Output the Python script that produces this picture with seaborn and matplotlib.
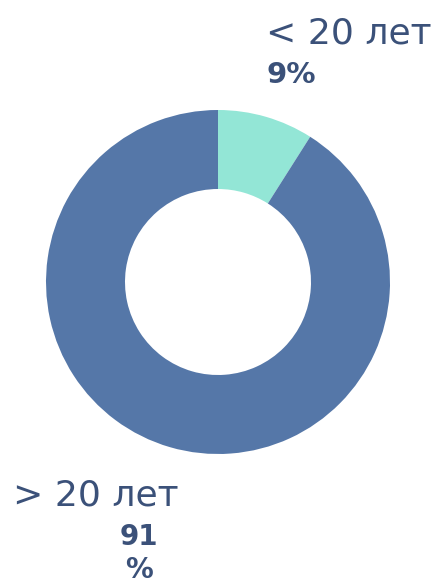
import matplotlib
matplotlib.use('Agg')
import matplotlib.pyplot as plt
import seaborn as sns

# data
labels = ['< 20 лет', '> 20 лет']
shares = [9, 91]
colors = ['#93E6D6', '#5577A8']

sns.set_style('white')
plt.rcParams['font.family'] = ['DejaVu Sans']

W, H = 440, 586
fig = plt.figure(figsize=(W / 100, H / 100), dpi=100)
ax = fig.add_axes([0, 0, 1, 1])

cx, cy, r_out, r_in = 218, H - 282, 172, 93
ax.pie(shares, colors=colors, startangle=90, counterclock=False,
       center=(cx, cy), radius=r_out,
       wedgeprops=dict(width=r_out - r_in, linewidth=0))
ax.set_xlim(0, W)
ax.set_ylim(0, H)
ax.set_aspect('equal')
ax.axis('off')

txt = '#3B5179'
ax.text(432, H - 44, labels[0], ha='right', va='baseline', fontsize=26, color=txt)
ax.text(291, H - 83, f'{shares[0]}%', ha='center', va='baseline', fontsize=21,
        fontweight='bold', color=txt)
ax.text(13, H - 506, labels[1], ha='left', va='baseline', fontsize=26, color=txt)
ax.text(139, H - 545, f'{shares[1]}', ha='center', va='baseline', fontsize=20,
        fontweight='bold', color=txt)
ax.text(139, H - 578, '%', ha='center', va='baseline', fontsize=20,
        fontweight='bold', color=txt)

fig.savefig('out.png', dpi=100)
